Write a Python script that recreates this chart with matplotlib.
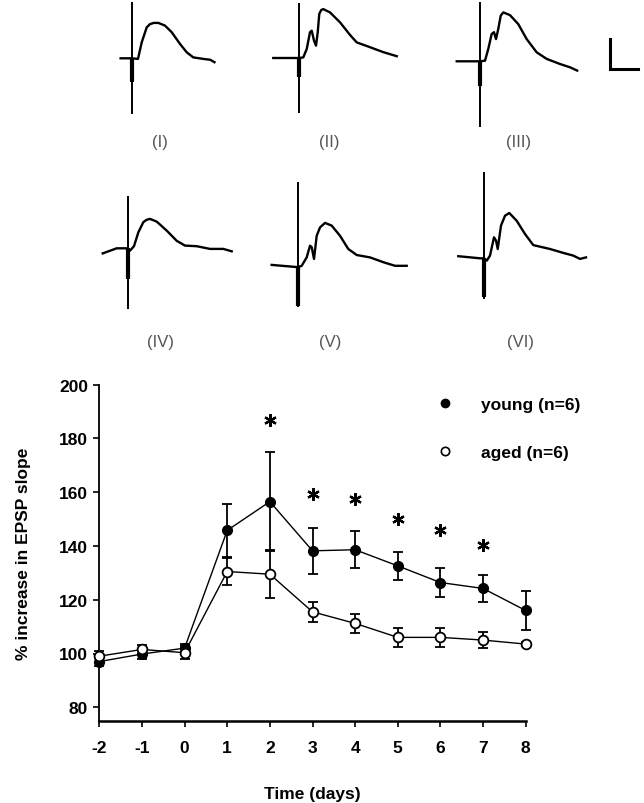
import matplotlib
matplotlib.use('Agg')
import matplotlib.pyplot as plt
from matplotlib.lines import Line2D

# ---------------- data ----------------
days = [-2, -1, 0, 1, 2, 3, 4, 5, 6, 7, 8]
young = [97.0, 99.8, 102.0, 145.8, 156.5, 138.2, 138.6, 132.6, 126.4, 124.2, 116.0]
young_err = [1.5, 2.0, 1.5, 10.0, 18.5, 8.6, 6.8, 5.1, 5.4, 5.1, 7.3]
aged = [99.0, 101.5, 100.3, 130.5, 129.5, 115.5, 111.2, 106.0, 106.0, 105.0, 103.5]
aged_err = [2.0, 1.5, 2.5, 5.0, 9.0, 3.8, 3.4, 3.4, 3.4, 3.0, 0.8]
star_days = [2, 3, 4, 5, 6, 7]
star_y = [187.0, 159.5, 157.5, 150.0, 146.0, 140.5]
x_ticks = [-2, -1, 0, 1, 2, 3, 4, 5, 6, 7, 8]
y_ticks = [80, 100, 120, 140, 160, 180, 200]
series_labels = ['young (n=6)', 'aged (n=6)']
trace_labels = ['(I)', '(II)', '(III)', '(IV)', '(V)', '(VI)']

# example EPSP traces (time in ms from stimulus, voltage in mV)
trace1_t = [-2.0, 0.0, 1.13, 1.8, 2.7, 3.29, 4.0, 4.79, 5.99, 7.2, 8.69, 9.9, 11.09, 12.89, 14.15, 14.9]
trace1_v = [0.0, 0.0, -0.02, 0.53, 1.03, 1.14, 1.18, 1.18, 1.09, 0.87, 0.48, 0.2, 0.03, -0.02, -0.05, -0.13]
trace2_t = [-4.63, 0.0, 0.77, 1.39, 1.98, 2.29, 2.7, 3.06, 3.37, 3.65, 4.0, 4.37, 5.58, 7.38, 9.18, 10.39, 12.78, 15.1, 17.59]
trace2_v = [0.0, 0.0, 0.02, 0.3, 0.86, 0.91, 0.58, 0.41, 0.86, 1.47, 1.6, 1.63, 1.52, 1.19, 0.77, 0.52, 0.36, 0.2, 0.06]
trace3_t = [-4.19, 0.0, 0.9, 1.49, 2.1, 2.52, 2.88, 3.29, 3.73, 4.19, 5.39, 6.89, 8.4, 10.2, 12.0, 14.4, 16.2, 17.5]
trace3_v = [0.0, 0.0, 0.02, 0.41, 0.91, 0.97, 0.74, 1.08, 1.52, 1.63, 1.54, 1.24, 0.74, 0.3, 0.08, -0.09, -0.2, -0.31]
trace4_t = [-4.5, -1.98, -0.49, 0.0, 0.41, 1.13, 1.91, 2.81, 3.4, 4.01, 5.22, 7.02, 8.82, 10.31, 12.42, 14.81, 17.21, 18.72]
trace4_v = [-0.17, 0.0, 0.0, 0.0, -0.08, 0.07, 0.53, 0.87, 0.95, 0.98, 0.89, 0.59, 0.25, 0.09, 0.07, -0.02, -0.02, -0.1]
trace5_t = [-4.79, -0.41, 0.0, 0.61, 1.51, 2.11, 2.41, 2.83, 3.31, 3.91, 4.81, 6.01, 7.51, 9.0, 10.51, 12.91, 15.3, 17.41, 19.51]
trace5_v = [0.07, 0.0, 0.0, 0.04, 0.32, 0.71, 0.66, 0.27, 1.04, 1.32, 1.47, 1.38, 1.04, 0.6, 0.4, 0.32, 0.16, 0.04, 0.04]
trace6_t = [-4.63, -0.72, 0.0, 0.49, 1.08, 1.8, 2.16, 2.47, 3.06, 3.78, 4.55, 5.89, 7.38, 8.87, 11.89, 14.27, 16.07, 17.28, 18.36]
trace6_v = [0.07, 0.0, 0.0, -0.08, 0.09, 0.70, 0.59, 0.31, 1.09, 1.42, 1.51, 1.25, 0.81, 0.44, 0.31, 0.18, 0.09, -0.02, 0.03]
artifact_top = [1.87, 1.82, 1.99, 1.75, 2.82, 2.87]
artifact_bottom = [-1.86, -1.83, -2.2, -2.02, -1.34, -1.36]
artifact_block = [-0.8, -0.63, -0.82, -1.02, -1.3, -1.3]
scalebar_ms = 5.0
scalebar_mv = 1.0

# ---------------- layout helpers ----------------
plt.rcParams['font.family'] = ['Liberation Sans', 'DejaVu Sans']
plt.rcParams['axes.unicode_minus'] = False
W, H = 644, 804
fig = plt.figure(figsize=(W / 100, H / 100), dpi=100)


def px_axes(left, top, width, height):
    return fig.add_axes([left / W, 1 - (top + height) / H, width / W, height / H])


MS_PER_PX = 0.18
MV_PER_PX = 1 / 30
XL = (-6.0, 21.0)
YL = (-2.5, 3.0)
AW = (XL[1] - XL[0]) / MS_PER_PX
AH = (YL[1] - YL[0]) / MV_PER_PX

trace_pos = [(131.7, 59.3), (299.0, 59.0), (480.0, 62.3),
             (127.7, 249.3), (298.3, 268.0), (484.0, 259.3)]
label_pos = [(160, 142), (329, 142), (519, 142),
             (160, 343), (330, 343), (520, 343)]
traces = [(trace1_t, trace1_v), (trace2_t, trace2_v), (trace3_t, trace3_v),
          (trace4_t, trace4_v), (trace5_t, trace5_v), (trace6_t, trace6_v)]

for i, (tt, vv) in enumerate(traces):
    sx, sy = trace_pos[i]
    ax = px_axes(sx - (0 - XL[0]) / MS_PER_PX, sy - (YL[1] - 0) / MV_PER_PX, AW, AH)
    ax.set_xlim(XL)
    ax.set_ylim(YL)
    ax.axis('off')
    ax.plot(tt, vv, color='black', lw=1.7, solid_joinstyle='round')
    ax.vlines(0, artifact_bottom[i], artifact_top[i], color='black', lw=1.4)
    ax.vlines(0, artifact_block[i], 0, color='black', lw=3.0)
    lx, ly = label_pos[i]
    fig.text(lx / W, 1 - ly / H, trace_labels[i], ha='center', va='center',
             fontsize=12, color='#555555', fontweight='light')

# scale bar
sb = px_axes(610 - (0 - XL[0]) / MS_PER_PX, 70 - (YL[1] - 0) / MV_PER_PX, AW, AH)
sb.set_xlim(XL)
sb.set_ylim(YL)
sb.axis('off')
sb.plot([0, 0, scalebar_ms], [scalebar_mv, 0, 0], color='black', lw=2.2,
        solid_joinstyle='miter')

# ---------------- main chart ----------------
ax = px_axes(99.3, 385.7, 426.4, 336.0)
ax.set_xlim(-2, 8)
ax.set_ylim(75, 200)
for s in ['top', 'right']:
    ax.spines[s].set_visible(False)
ax.spines['left'].set_linewidth(1.3)
ax.spines['bottom'].set_linewidth(1.8)
ax.set_xticks(x_ticks)
ax.set_yticks(y_ticks)
ax.tick_params(direction='out', length=4, width=1.2, labelsize=12.5, pad=4)
for lab in ax.get_xticklabels() + ax.get_yticklabels():
    lab.set_fontweight('bold')
ax.tick_params(axis='x', pad=10)

ax.errorbar(days, young, yerr=young_err, fmt='o-', color='black', mfc='black',
            mec='black', ms=7, lw=1.0, elinewidth=1.3, capsize=3.5, capthick=1.3,
            zorder=3, clip_on=False)
ax.errorbar(days, aged, yerr=aged_err, fmt='o-', color='black', mfc='white',
            mec='black', mew=1.3, ms=7, lw=1.0, elinewidth=1.3, capsize=3.5,
            capthick=1.3, zorder=4, clip_on=False)

ax.plot(star_days, star_y, ls='none', marker=(6, 2, 0), ms=9, mew=1.6,
        color='black', zorder=5)

handles = [Line2D([], [], ls='none', marker='o', ms=6, mfc='black', mec='black'),
           Line2D([], [], ls='none', marker='o', ms=6, mfc='white', mec='black', mew=1.2)]
leg = ax.legend(handles, series_labels, loc='upper left', bbox_to_anchor=(0.79, 0.965),
                frameon=False, handlelength=1.0, handletextpad=1.6, labelspacing=1.9,
                borderpad=0, borderaxespad=0,
                prop={'weight': 'bold', 'size': 12.5})

ax.set_ylabel('% increase in EPSP slope', fontsize=12.5, fontweight='bold', labelpad=20)
ax.set_xlabel('Time (days)', fontsize=12.5, fontweight='bold', labelpad=22)

fig.savefig('out.png', dpi=100)
